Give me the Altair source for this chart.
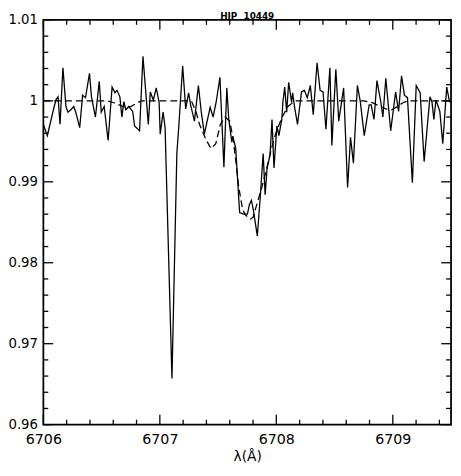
import altair as alt
import pandas as pd

# Observed spectrum (solid)
obs_wave = [6706.000, 6706.034, 6706.093, 6706.110, 6706.126, 6706.143, 6706.168, 6706.194, 6706.211, 6706.236,
            6706.261, 6706.278, 6706.312, 6706.337, 6706.362, 6706.396, 6706.413, 6706.447, 6706.480, 6706.497,
            6706.522, 6706.556, 6706.590, 6706.615, 6706.632, 6706.657, 6706.674, 6706.691, 6706.708, 6706.733,
            6706.767, 6706.783, 6706.826, 6706.855, 6706.901, 6706.918, 6706.944, 6706.969, 6706.994, 6707.003,
            6707.028, 6707.045, 6707.104, 6707.146, 6707.163, 6707.196, 6707.222, 6707.247, 6707.264,
            6707.297, 6707.331, 6707.356, 6707.382, 6707.432, 6707.457, 6707.483, 6707.516, 6707.550, 6707.575,
            6707.592, 6707.618, 6707.626, 6707.651, 6707.685, 6707.719, 6707.752, 6707.769, 6707.786, 6707.803,
            6707.837, 6707.862, 6707.887, 6707.904, 6707.921, 6707.946, 6707.963, 6707.980, 6708.005, 6708.022,
            6708.047, 6708.056, 6708.072, 6708.089, 6708.106, 6708.131, 6708.140, 6708.157, 6708.182, 6708.216,
            6708.241, 6708.266, 6708.292, 6708.317, 6708.350, 6708.376, 6708.401, 6708.426, 6708.460, 6708.477,
            6708.511, 6708.536, 6708.578, 6708.612, 6708.637, 6708.662, 6708.696, 6708.721, 6708.755, 6708.797,
            6708.814, 6708.839, 6708.864, 6708.898, 6708.915, 6708.940, 6708.982, 6709.024, 6709.050, 6709.075,
            6709.100, 6709.126, 6709.168, 6709.201, 6709.235, 6709.269, 6709.319, 6709.336, 6709.353, 6709.370,
            6709.404, 6709.429, 6709.463, 6709.488]
obs_flux = [0.9971, 0.9957, 0.9993, 1.0002, 1.0005, 0.9971, 1.0041, 0.9993, 0.9986, 0.9989,
            0.9993, 0.9986, 0.9967, 1.0007, 1.0004, 1.0034, 1.0005, 0.9980, 1.0024, 0.9986,
            0.9993, 0.9951, 1.0017, 1.0010, 1.0013, 1.0005, 0.9980, 0.9999, 0.9989, 0.9993,
            0.9987, 0.9969, 0.9963, 1.0055, 0.9971, 1.0011, 1.0001, 1.0016, 0.9998, 0.9959,
            0.9986, 0.9967, 0.9657, 0.9935, 0.9969, 1.0043, 0.9990, 1.0010, 0.9995,
            0.9975, 1.0019, 0.9986, 0.9959, 0.9992, 0.9980, 0.9998, 1.0029, 0.9918, 1.0016,
            0.9977, 0.9949, 0.9956, 0.9942, 0.9862, 0.9860, 0.9860, 0.9872, 0.9877, 0.9865,
            0.9833, 0.9881, 0.9935, 0.9884, 0.9917, 0.9933, 0.9977, 0.9917, 0.9969, 0.9957,
            0.9977, 0.9998, 1.0017, 0.9986, 1.0023, 0.9998, 1.0010, 0.9992, 0.9971, 1.0011,
            1.0013, 1.0004, 1.0019, 0.9983, 1.0047, 1.0013, 1.0011, 0.9965, 1.0041, 0.9945,
            1.0039, 0.9975, 1.0016, 0.9893, 0.9955, 0.9923, 1.0019, 0.9999, 0.9957, 0.9995,
            0.9995, 0.9977, 1.0025, 0.9998, 0.9980, 1.0028, 0.9963, 1.0011, 0.9987, 1.0031,
            1.0007, 1.0004, 0.9899, 1.0019, 1.0010, 0.9925, 1.0005, 0.9999, 0.9977, 1.0001,
            0.9987, 0.9947, 1.0017, 0.9998]

# Synthetic model (dashed)
model_wave = [6706.00, 6706.55, 6706.60, 6706.65, 6706.70, 6706.75, 6706.80, 6706.84, 6707.27, 6707.31,
              6707.34, 6707.40, 6707.44, 6707.48, 6707.52, 6707.56, 6707.60, 6707.63, 6707.651, 6707.676,
              6707.71, 6707.735, 6707.778, 6707.80, 6707.82, 6707.845, 6707.879, 6707.92, 6707.96, 6708.00,
              6708.05, 6708.10, 6708.16, 6708.75, 6708.82, 6708.88, 6708.94, 6708.99, 6709.04, 6709.09,
              6709.13, 6709.50]
model_flux = [1.0000, 1.0000, 0.9998, 0.9995, 0.9992, 0.9993, 0.9997, 1.0000, 1.0000, 0.9987,
              0.9971, 0.9951, 0.9941, 0.9947, 0.9971, 0.9980, 0.9975, 0.9953, 0.9927, 0.9895,
              0.9866, 0.9859, 0.9854, 0.9856, 0.9866, 0.9878, 0.9895, 0.9918, 0.9942, 0.9962,
              0.9980, 0.9993, 1.0000, 1.0000, 0.9998, 0.9994, 0.9990, 0.9989, 0.9993, 0.9998,
              1.0000, 1.0000]

x_major = [6706, 6707, 6708, 6709]
x_minor = [6706.2, 6706.4, 6706.6, 6706.8, 6707.2, 6707.4, 6707.6, 6707.8,
           6708.2, 6708.4, 6708.6, 6708.8, 6709.2, 6709.4]
y_major = [0.96, 0.97, 0.98, 0.99, 1.00, 1.01]
y_minor = [0.962, 0.964, 0.966, 0.968, 0.972, 0.974, 0.976, 0.978, 0.982, 0.984,
           0.986, 0.988, 0.992, 0.994, 0.996, 0.998, 1.002, 1.004, 1.006, 1.008]
title_text = ["HIP\u00a0\u00a010449"]

W, H = 415, 412
MAJ, MIN = 10, 5

xs = alt.Scale(domain=[6706, 6709.5], nice=False, zero=False)
ys = alt.Scale(domain=[0.96, 1.01], nice=False, zero=False)

x_axis = alt.Axis(values=x_major, format="d", ticks=False, tickSize=0, domain=False, grid=False,
                  labelFont="DejaVu Sans", labelFontSize=14.5, labelColor="black", labelPadding=8.5,
                  labelFlush=False, labelOverlap=False,
                  title="λ(Å)", titleFont="DejaVu Sans", titleFontSize=14, titleFontWeight="normal",
                  titleColor="black", titleY=36, titleBaseline="alphabetic")
y_axis = alt.Axis(values=y_major,
                  labelExpr="abs(datum.value - 1) < 1e-9 ? '1' : format(datum.value, '.2f')",
                  ticks=False, tickSize=0, domain=False, grid=False,
                  labelFont="DejaVu Sans", labelFontSize=13.5, labelColor="black", labelPadding=6,
                  labelFlush=False, labelOverlap=False, title=None)

obs = pd.DataFrame({"w": obs_wave, "f": obs_flux})
mod = pd.DataFrame({"w": model_wave, "f": model_flux})

solid = alt.Chart(obs).mark_line(color="black", strokeWidth=1.3).encode(
    x=alt.X("w:Q", scale=xs, axis=x_axis),
    y=alt.Y("f:Q", scale=ys, axis=y_axis),
)
dashed = alt.Chart(mod).mark_line(color="black", strokeWidth=1.3, strokeDash=[7, 4]).encode(
    x=alt.X("w:Q", scale=xs),
    y=alt.Y("f:Q", scale=ys),
)


def xticks(vals, y0, y1):
    return alt.Chart(pd.DataFrame({"w": vals})).mark_rule(color="black", strokeWidth=1.3).encode(
        x=alt.X("w:Q", scale=xs), y=alt.value(y0), y2=alt.value(y1))


def yticks(vals, x0, x1):
    return alt.Chart(pd.DataFrame({"f": vals})).mark_rule(color="black", strokeWidth=1.3).encode(
        y=alt.Y("f:Q", scale=ys), x=alt.value(x0), x2=alt.value(x1))


title = alt.Chart(pd.DataFrame({"t": title_text})).mark_text(
    font="DejaVu Sans", fontSize=9, fontWeight="bold", color="black",
    align="center", baseline="alphabetic",
).encode(text="t:N", x=alt.value(W / 2), y=alt.value(-1.2))

layers = [
    xticks(x_major, H, H - MAJ), xticks(x_minor, H, H - MIN),
    xticks(x_major, 0, MAJ), xticks(x_minor, 0, MIN),
    yticks(y_major, 0, MAJ), yticks(y_minor, 0, MIN),
    yticks(y_major, W, W - MAJ), yticks(y_minor, W, W - MIN),
    dashed, solid, title,
]

chart = alt.layer(*layers).properties(
    width=W, height=H,
    padding={"left": 36, "top": 8, "right": 2, "bottom": 40},
    autosize=alt.AutoSizeParams(type="none"),
).configure_view(stroke="black", strokeWidth=1.8)

chart.save("out.html", embed_options={"renderer": "svg", "actions": False})
